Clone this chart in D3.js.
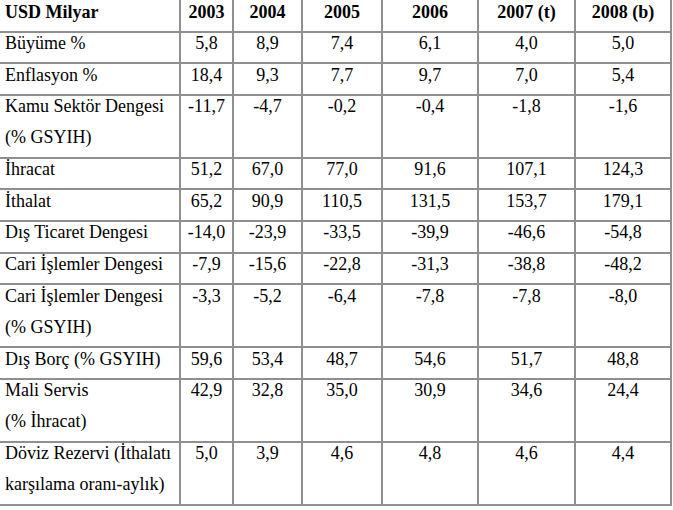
<!DOCTYPE html>
<html><head><meta charset="utf-8">
<script src="https://cdn.jsdelivr.net/npm/d3@7"></script>
</head><body style="margin:0;font-family:'Liberation Serif'">
<script>
const headerLabel = "USD Milyar";
const years = ["2003","2004","2005","2006","2007 (t)","2008 (b)"];
const indicators = [
  ["Büyüme %"],
  ["Enflasyon %"],
  ["Kamu Sektör Dengesi","(% GSYIH)"],
  ["İhracat"],
  ["İthalat"],
  ["Dış Ticaret Dengesi"],
  ["Cari İşlemler Dengesi"],
  ["Cari İşlemler Dengesi","(% GSYIH)"],
  ["Dış Borç (% GSYIH)"],
  ["Mali Servis","(% İhracat)"],
  ["Döviz Rezervi (İthalatı","karşılama oranı-aylık)"]
];
const v2003 = [5.8,18.4,-11.7,51.2,65.2,-14.0,-7.9,-3.3,59.6,42.9,5.0];
const v2004 = [8.9,9.3,-4.7,67.0,90.9,-23.9,-15.6,-5.2,53.4,32.8,3.9];
const v2005 = [7.4,7.7,-0.2,77.0,110.5,-33.5,-22.8,-6.4,48.7,35.0,4.6];
const v2006 = [6.1,9.7,-0.4,91.6,131.5,-39.9,-31.3,-7.8,54.6,30.9,4.8];
const v2007 = [4.0,7.0,-1.8,107.1,153.7,-46.6,-38.8,-7.8,51.7,34.6,4.6];
const v2008 = [5.0,5.4,-1.6,124.3,179.1,-54.8,-48.2,-8.0,48.8,24.4,4.4];
const series = [v2003,v2004,v2005,v2006,v2007,v2008];

// layout
const W = 673, H = 510;
const colEdges = [0,180,233,302,382,478,575,671];
const lineColor = "#8f8f8f";
const fs = 18;

const svg = d3.select("body").append("svg").attr("width",W).attr("height",H)
  .style("display","block").attr("font-family","Liberation Serif");

const rowUnits = [1].concat(indicators.map(d=>d.length));
const cum = [0]; rowUnits.forEach(u=>cum.push(cum[cum.length-1]+u));
const y = d3.scaleLinear().domain([0,cum[cum.length-1]]).range([0,505]);
const x = d3.scaleOrdinal().domain(d3.range(colEdges.length)).range(colEdges);

const fmt = v => d3.format(".1f")(v).replace(".",",").replace("−","-");

const g = svg.append("g");
g.selectAll("line.h").data(cum.slice(1)).join("line")
  .attr("x1",0).attr("x2",x(7)+1)
  .attr("y1",d=>Math.round(y(d))).attr("y2",d=>Math.round(y(d)))
  .attr("stroke",lineColor).attr("stroke-width",2);
g.selectAll("line.v").data(d3.range(1,8)).join("line")
  .attr("x1",d=>x(d)).attr("x2",d=>x(d))
  .attr("y1",0).attr("y2",Math.round(y(cum[cum.length-1]))+1)
  .attr("stroke",lineColor).attr("stroke-width",2);

// text rows
const base = 17.5, lh = 31;
const cells = [];
cells.push({x:5, y:y(0)+base, s:headerLabel, b:true, a:"start"});
years.forEach((d,i)=>cells.push({x:(x(i+1)+x(i+2))/2, y:y(0)+base, s:d, b:true, a:"middle"}));
indicators.forEach((lines,r)=>{
  const top = y(cum[r+1]);
  lines.forEach((ln,k)=>cells.push({x:5, y:top+base+k*lh, s:ln, b:false, a:"start"}));
  series.forEach((s,c)=>cells.push({x:(x(c+1)+x(c+2))/2, y:top+base, s:fmt(s[r]), b:false, a:"middle"}));
});
svg.append("g").selectAll("text").data(cells).join("text")
  .attr("x",d=>d.x).attr("y",d=>d.y)
  .attr("font-size",18)
  .style("font-family",'"Liberation Serif"')
  .attr("font-weight",d=>d.b?"bold":null)
  .attr("text-anchor",d=>d.a)
  .attr("fill","#000")
  .text(d=>d.s);
</script>
</body></html>
